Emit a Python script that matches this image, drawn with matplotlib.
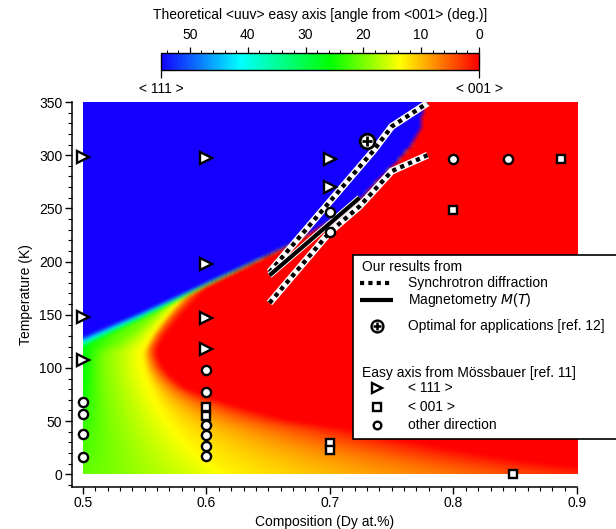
import numpy as np
import matplotlib
matplotlib.use("Agg")
import matplotlib.pyplot as plt
from matplotlib.colors import LinearSegmentedColormap, Normalize
from matplotlib.ticker import MultipleLocator
from matplotlib.lines import Line2D
from matplotlib.patches import Rectangle
import matplotlib.cm as cm

plt.rcParams['font.family'] = ['Liberation Sans', 'DejaVu Sans']
plt.rcParams['font.size'] = 10

# Mossbauer easy axis [ref. 11]
tri_x = [0.5, 0.5, 0.5, 0.6, 0.6, 0.6, 0.6, 0.7, 0.7]
tri_T = [298, 148, 107, 297, 198, 147, 118, 296, 270]
sq_x = [0.6, 0.6, 0.7, 0.7, 0.8, 0.887, 0.848]
sq_T = [63, 55, 29, 23, 248, 296, 0]
circ_x = [0.5, 0.5, 0.5, 0.5, 0.6, 0.6, 0.6, 0.6, 0.6, 0.6, 0.7, 0.7, 0.8, 0.844]
circ_T = [68, 57, 38, 16, 98, 77, 46, 37, 27, 17, 247, 228, 296, 296]
# optimal composition [ref. 12]
opt_x = [0.730]
opt_T = [313]

# our results: synchrotron diffraction (two limits) and magnetometry
sync_up_x = [0.651, 0.735, 0.750, 0.779]
sync_up_T = [190, 304, 327, 349]
sync_lo_x = [0.651, 0.700, 0.724, 0.750, 0.779]
sync_lo_T = [161, 228, 252, 285, 300]
mag_x = [0.651, 0.724]
mag_T = [187, 260]

# theoretical map: upper limit of the <111> (blue) region
bnd_x = [0.49, 0.50, 0.545, 0.60, 0.668, 0.70, 0.724, 0.735, 0.754, 0.766, 0.773, 0.776, 0.79]
bnd_T = [124, 129, 151, 180, 216, 238, 258, 272, 294, 310, 325, 350, 420]
# width (K) of the continuous transition just below that limit
band_x = [0.5, 0.6, 0.65, 0.67, 0.9]
band_T = [10, 4, 1.5, 0.5, 0.5]

# positions (x) of the angle levels 20, 13, 6 and 0 deg below the limit
lev_T = [0, 10, 20, 30, 40, 50, 60, 70, 80, 90, 100, 110, 115, 120, 130, 140, 150, 160, 170, 180, 200, 350]
x20 = [0.522, 0.522, 0.522, 0.521, 0.520, 0.519, 0.518, 0.517, 0.516, 0.515, 0.515, 0.515, 0.517,
       0.525, 0.537, 0.548, 0.558, 0.568, 0.578, 0.589, 0.605, 0.72]
x13 = [0.620, 0.606, 0.595, 0.586, 0.578, 0.571, 0.565, 0.560, 0.556, 0.552, 0.5495, 0.5485, 0.549,
       0.551, 0.556, 0.562, 0.569, 0.576, 0.584, 0.592, 0.607, 0.73]
x6 = [0.800, 0.760, 0.720, 0.685, 0.655, 0.625, 0.603, 0.585, 0.572, 0.563, 0.557, 0.554, 0.5535,
      0.5545, 0.559, 0.565, 0.572, 0.580, 0.588, 0.596, 0.612, 0.74]
x0 = [0.950, 0.870, 0.815, 0.768, 0.725, 0.668, 0.635, 0.605, 0.583, 0.572, 0.564, 0.560, 0.5595,
      0.561, 0.566, 0.573, 0.580, 0.588, 0.596, 0.603, 0.620, 0.75]
# angle at x = 0.5
theta_left = [21, 21.5, 22, 22.5, 23, 23.5, 24, 24.5, 25, 25.5, 25.5, 26, 26, 26, 26, 26, 26, 26, 26, 26, 26, 26]

cb_ticks = [50, 40, 30, 20, 10, 0]

# colour map: 0 deg red ... 55 deg blue
cmap = LinearSegmentedColormap.from_list(
    'easy', [(0.0, (1, 0, 0)), (13.6 / 55, (1, 1, 0)), (25.7 / 55, (0, 1, 0)),
             (41.3 / 55, (0, 1, 1)), (1.0, (0.08, 0, 1))])
norm = Normalize(0, 55)

# build the angle map on a grid
gx = np.linspace(0.5, 0.9, 240)
gT = np.linspace(0, 350, 210)
X, TT = np.meshgrid(gx, gT)
theta = np.zeros(X.shape)
for i, t in enumerate(gT):
    xp = [0.5, np.interp(t, lev_T, x20), np.interp(t, lev_T, x13),
          np.interp(t, lev_T, x6), np.interp(t, lev_T, x0)]
    fp = [np.interp(t, lev_T, theta_left), 20, 13, 6, 0]
    theta[i] = np.interp(gx, xp, fp)
Tb = np.interp(gx, bnd_x, bnd_T)
band = np.interp(gx, band_x, band_T)
w = np.clip((TT - (Tb - band)) / band, 0, 1)
theta = theta + (55 - theta) * w

rgb = cmap(norm(theta))[..., :3]
# light smoothing of the colours
pad = np.pad(rgb, ((1, 1), (1, 1), (0, 0)), mode='edge')
rgb = sum(pad[1 + i:pad.shape[0] - 1 + i, 1 + j:pad.shape[1] - 1 + j] for i in (-1, 0, 1) for j in (-1, 0, 1)) / 9.0

fig = plt.figure(figsize=(6.16, 5.29), dpi=100)
ax = fig.add_axes([72 / 616, 1 - 486.7 / 529, 505 / 616, 384.7 / 529])

ax.imshow(rgb, extent=[0.5, 0.9, 0, 350], origin='lower', aspect='auto', interpolation='bilinear', zorder=1)

# synchrotron lines (white with black dashes) and magnetometry line
for lx, ly in [(sync_up_x, sync_up_T), (sync_lo_x, sync_lo_T)]:
    ax.plot(lx, ly, color='white', lw=5.0, solid_capstyle='butt', zorder=3)
    ax.plot(lx, ly, color='black', lw=3.1, dashes=(1, 1), dash_capstyle='butt', zorder=3)
ax.plot(mag_x, mag_T, color='white', lw=4.4, solid_capstyle='butt', zorder=3)
ax.plot(mag_x, mag_T, color='black', lw=3.0, solid_capstyle='butt', zorder=3)

mk = dict(linestyle='none', markerfacecolor='white', markeredgecolor='black', markeredgewidth=1.7,
          zorder=5, clip_on=False)
ax.plot(tri_x, tri_T, marker='>', markersize=8.5, **mk)
ax.plot(sq_x, sq_T, marker='s', markersize=6.4, **mk)
ax.plot(circ_x, circ_T, marker='o', markersize=6.6, **mk)
ax.plot(opt_x, opt_T, marker='o', markersize=10.5, **dict(mk, markeredgewidth=2.0))
ax.plot(opt_x, opt_T, marker='+', markersize=6.5, linestyle='none', color='black', markeredgewidth=2.0, zorder=6)

ax.set_xlim(0.4911, 0.9)
ax.set_ylim(-11.7, 350)
ax.spines['top'].set_visible(False)
ax.spines['right'].set_visible(False)
for s in ['left', 'bottom']:
    ax.spines[s].set_linewidth(1.1)
ax.set_xticks([0.5, 0.6, 0.7, 0.8, 0.9])
ax.set_xticklabels(['0.5', '0.6', '0.7', '0.8', '0.9'])
ax.xaxis.set_minor_locator(MultipleLocator(0.01))
ax.set_yticks(range(0, 351, 50))
ax.yaxis.set_minor_locator(MultipleLocator(10))
ax.tick_params(which='major', direction='out', length=5, width=1.0, pad=2)
ax.tick_params(which='minor', direction='out', length=3, width=0.8)
ax.set_xlabel('Composition (Dy at.%)', labelpad=3)
ax.set_ylabel('Temperature (K)', labelpad=4)

# colour bar at the top
cax = fig.add_axes([161 / 616, 1 - 70 / 529, 318 / 616, 17.3 / 529])
sm = cm.ScalarMappable(norm=norm, cmap=cmap)
cbar = fig.colorbar(sm, cax=cax, orientation='horizontal')
cax.invert_xaxis()
cax.xaxis.set_ticks_position('top')
cbar.set_ticks(cb_ticks)
cbar.set_ticklabels([str(t) for t in cb_ticks])
cax.xaxis.set_minor_locator(MultipleLocator(2))
cax.tick_params(which='major', direction='out', length=4.5, width=0.9, pad=3)
cax.tick_params(which='minor', direction='out', length=2, width=0.7)
cbar.outline.set_linewidth(1.0)
sec = cax.secondary_xaxis('bottom')
sec.set_xticks([55, 0])
sec.set_xticklabels(['< 111 >', '< 001 >'])
sec.tick_params(direction='out', length=6, width=0.9, pad=3)
for s in sec.spines.values():
    s.set_visible(False)
fig.text(320 / 616, 1 - 15 / 529, 'Theoretical <uuv> easy axis [angle from <001> (deg.)]',
         ha='center', va='center')

# legend box (drawn by hand in figure pixels)
def fx(px):
    return px / 616


def fy(py):
    return 1 - py / 529


fig.add_artist(Rectangle((fx(353), fy(439)), fx(625) - fx(353), fy(255) - fy(439), transform=fig.transFigure,
                         facecolor='white', edgecolor='black', lw=1.2, zorder=10))
tk = dict(transform=fig.transFigure, va='center', zorder=11)
fig.text(fx(362), fy(267), 'Our results from', **tk)
fig.add_artist(Line2D([fx(360), fx(393)], [fy(283), fy(283)], transform=fig.transFigure, color='black',
                      lw=3, dashes=(1, 1), dash_capstyle='butt', zorder=11))
fig.text(fx(408), fy(283), 'Synchrotron diffraction', **tk)
fig.add_artist(Line2D([fx(360), fx(393)], [fy(300), fy(300)], transform=fig.transFigure, color='black',
                      lw=3, solid_capstyle='butt', zorder=11))
fig.text(fx(408), fy(300), 'Magnetometry $\\it{M}$($\\it{T}$)', **tk)
lm = dict(transform=fig.transFigure, linestyle='none', markerfacecolor='white', markeredgecolor='black',
          markeredgewidth=1.7, zorder=11)
fig.add_artist(Line2D([fx(377)], [fy(326)], marker='o', markersize=8.5, **lm))
fig.add_artist(Line2D([fx(377)], [fy(326)], marker='+', markersize=5.5, transform=fig.transFigure,
                      linestyle='none', color='black', markeredgewidth=1.8, zorder=12))
fig.text(fx(408), fy(326), 'Optimal for applications [ref. 12]', **tk)
fig.text(fx(362), fy(373), 'Easy axis from Mössbauer [ref. 11]', **tk)
fig.add_artist(Line2D([fx(377)], [fy(388)], marker='>', markersize=6.5, **lm))
fig.text(fx(408), fy(388), '< 111 >', **tk)
fig.add_artist(Line2D([fx(377)], [fy(407)], marker='s', markersize=5.5, **lm))
fig.text(fx(408), fy(407), '< 001 >', **tk)
fig.add_artist(Line2D([fx(377)], [fy(425)], marker='o', markersize=5.5, **lm))
fig.text(fx(408), fy(425), 'other direction', **tk)

fig.savefig('out.png', dpi=100)
